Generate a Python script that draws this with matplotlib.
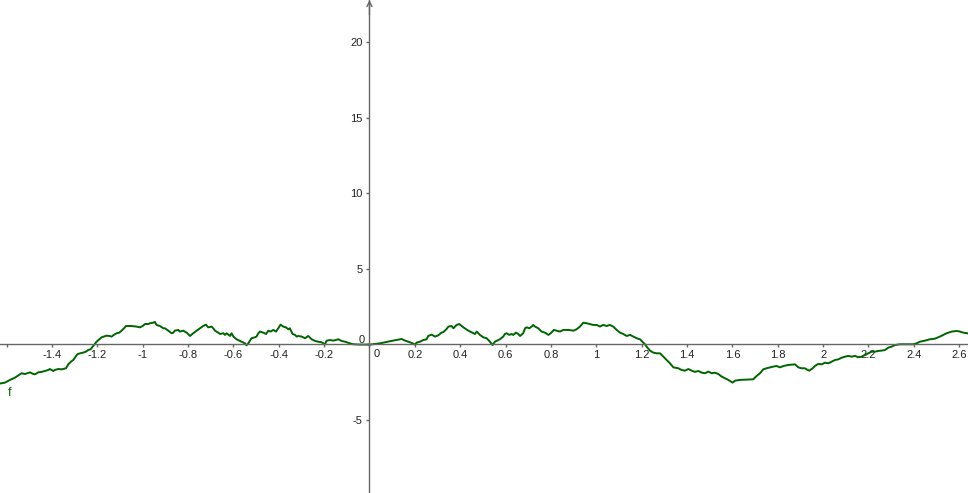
import matplotlib
matplotlib.use("Agg")
import matplotlib.pyplot as plt

# ---- data ----
x_vals = [-1.629, -1.607, -1.585, -1.563, -1.534, -1.519, -1.497, -1.482, -1.475, -1.460, -1.446,
          -1.431, -1.416, -1.409, -1.394, -1.387, -1.372, -1.357, -1.338, -1.328, -1.316, -1.306,
          -1.288, -1.276, -1.262, -1.250, -1.240, -1.229, -1.218, -1.203, -1.191, -1.181, -1.171,
          -1.159, -1.147, -1.137, -1.127, -1.115, -1.103, -1.093, -1.082, -1.074, -1.049, -1.027,
          -1.012, -1.000, -0.990, -0.975, -0.968, -0.953, -0.946, -0.939, -0.924, -0.909,
          -0.902, -0.887, -0.872, -0.865, -0.858, -0.843, -0.836, -0.821, -0.806, -0.791, -0.777,
          -0.762, -0.747, -0.733, -0.721, -0.711, -0.696, -0.689, -0.681, -0.667, -0.659, -0.644,
          -0.637, -0.630, -0.615, -0.608, -0.600, -0.586, -0.574, -0.564, -0.549, -0.542, -0.534,
          -0.527, -0.520, -0.505, -0.498, -0.490, -0.483, -0.468, -0.456, -0.446, -0.436, -0.424,
          -0.412, -0.402, -0.392, -0.380, -0.368, -0.358, -0.351, -0.339, -0.328, -0.321, -0.314,
          -0.299, -0.284, -0.270, -0.255, -0.240, -0.226, -0.211, -0.196,
          -0.189, -0.174, -0.159, -0.137, -0.123, -0.108, -0.086, -0.071, -0.042, 0.002, 0.046,
          0.090, 0.142, 0.157, 0.179, 0.201, 0.208, 0.223, 0.237, 0.252, 0.259, 0.274, 0.289,
          0.303, 0.318, 0.326, 0.340, 0.348, 0.362, 0.370, 0.377, 0.384, 0.396, 0.414, 0.436,
          0.465, 0.473, 0.487, 0.502,
          0.517, 0.531, 0.543, 0.553, 0.568, 0.575, 0.590, 0.597, 0.605, 0.616, 0.627, 0.634,
          0.646, 0.656, 0.664, 0.678, 0.686, 0.693, 0.705, 0.715, 0.722, 0.730, 0.744, 0.759,
          0.774, 0.789, 0.799, 0.813, 0.825, 0.840, 0.855, 0.877, 0.899, 0.913, 0.928, 0.943,
          0.958, 0.972, 0.987, 1.002, 1.016, 1.031, 1.046, 1.060, 1.075, 1.090, 1.105, 1.119,
          1.134, 1.149, 1.163, 1.178, 1.193, 1.207, 1.215,
          1.222, 1.237, 1.251, 1.266, 1.281, 1.296, 1.310, 1.325, 1.340, 1.362, 1.376, 1.391,
          1.406, 1.421, 1.435, 1.450, 1.465, 1.479, 1.494, 1.509, 1.523, 1.538, 1.553, 1.568,
          1.582, 1.601, 1.612, 1.634, 1.692, 1.707, 1.722, 1.736, 1.751, 1.766, 1.780, 1.795,
          1.810, 1.825, 1.847, 1.876, 1.891, 1.905, 1.920,
          1.927, 1.939, 1.954, 1.964, 1.979, 1.994, 2.008, 2.023, 2.038, 2.053, 2.067, 2.082,
          2.097, 2.111, 2.126, 2.141, 2.155, 2.170, 2.185, 2.199, 2.214, 2.229, 2.244, 2.258,
          2.273, 2.288, 2.302, 2.317, 2.339, 2.368, 2.398, 2.412, 2.427, 2.449, 2.471, 2.493,
          2.515, 2.530, 2.545, 2.567, 2.589, 2.604, 2.618, 2.633, 2.639]

f_vals = [-2.60, -2.54, -2.36, -2.21, -1.92, -1.97, -1.86, -1.97, -1.99, -1.86, -1.83,
          -1.77, -1.70, -1.64, -1.77, -1.70, -1.64, -1.66, -1.59, -1.33, -1.15, -1.04,
          -0.66, -0.60, -0.55, -0.49, -0.38, -0.33, -0.11, 0.17, 0.33, 0.46, 0.51,
          0.57, 0.55, 0.51, 0.62, 0.73, 0.77, 0.90, 1.06, 1.21, 1.21, 1.17,
          1.12, 1.21, 1.34, 1.34, 1.39, 1.43, 1.48, 1.28, 1.21, 1.06,
          1.06, 0.90, 0.73, 0.77, 0.90, 0.95, 0.84, 0.90, 0.77, 0.55, 0.73,
          0.90, 1.06, 1.21, 1.30, 1.12, 1.17, 1.06, 0.90, 0.77, 0.68, 0.73,
          0.62, 0.73, 0.55, 0.73, 0.51, 0.33, 0.24, 0.17, 0.06, -0.07, 0.06,
          0.24, 0.40, 0.46, 0.51, 0.73, 0.84, 0.77, 0.68, 0.90, 0.84, 0.95,
          0.84, 1.06, 1.30, 1.17, 1.12, 0.99, 1.06, 0.68, 0.62, 0.51, 0.55,
          0.51, 0.40, 0.55, 0.33, 0.22, 0.17, 0.13, 0.00,
          0.24, 0.28, 0.24, 0.33, 0.22, 0.17, 0.06, 0.00, -0.02, -0.02, 0.06,
          0.20, 0.35, 0.24, 0.13, -0.02, 0.11, 0.17, 0.28, 0.33, 0.55, 0.64, 0.51,
          0.59, 0.77, 0.81, 1.01, 1.17, 1.21, 1.06, 1.17, 1.28, 1.34, 1.12, 0.90,
          0.68, 0.84, 0.62, 0.46,
          0.40, 0.17, -0.05, 0.17, 0.28, 0.33, 0.51, 0.68, 0.73, 0.62, 0.68, 0.62,
          0.77, 0.68, 0.55, 0.73, 1.06, 1.12, 1.06, 1.17, 1.28, 1.17, 1.06, 0.84,
          0.77, 0.62, 0.73, 0.95, 0.90, 0.84, 0.95, 0.95, 0.90, 0.99, 1.17, 1.43,
          1.39, 1.34, 1.28, 1.28, 1.17, 1.28, 1.21, 1.28, 1.17, 0.95, 0.77, 0.68,
          0.55, 0.62, 0.51, 0.40, 0.33, 0.11, 0.00,
          -0.16, -0.42, -0.55, -0.60, -0.60, -0.82, -1.04, -1.26, -1.53, -1.59, -1.70, -1.75,
          -1.64, -1.75, -1.83, -1.77, -1.88, -1.92, -1.81, -1.92, -1.88, -1.97, -2.14, -2.25,
          -2.36, -2.54, -2.41, -2.36, -2.32, -2.10, -1.92, -1.66, -1.59, -1.53, -1.48, -1.44,
          -1.53, -1.44, -1.37, -1.33, -1.53, -1.59, -1.59,
          -1.66, -1.75, -1.59, -1.44, -1.30, -1.33, -1.22, -1.26, -1.15, -1.04, -1.00, -0.89,
          -0.82, -0.77, -0.82, -0.77, -0.86, -0.82, -0.71, -0.60, -0.49, -0.49, -0.44, -0.42,
          -0.38, -0.22, -0.16, -0.05, 0.00, 0.00, 0.00, 0.06, 0.17, 0.24, 0.33, 0.37,
          0.51, 0.62, 0.73, 0.84, 0.88, 0.84, 0.77, 0.73, 0.72]

x_ticks = [-1.6, -1.4, -1.2, -1.0, -0.8, -0.6, -0.4, -0.2, 0.0, 0.2, 0.4, 0.6, 0.8,
           1.0, 1.2, 1.4, 1.6, 1.8, 2.0, 2.2, 2.4, 2.6]
x_tick_labels = ["", "-1.4", "-1.2", "-1", "-0.8", "-0.6", "-0.4", "-0.2", "", "0.2", "0.4",
                 "0.6", "0.8", "1", "1.2", "1.4", "1.6", "1.8", "2", "2.2", "2.4", "2.6"]
y_ticks = [-5, 0, 5, 10, 15, 20]
y_tick_labels = ["-5", "", "5", "10", "15", "20"]
func_name = "f"

# ---- drawing ----
plt.rcParams['font.family'] = ['Liberation Sans', 'DejaVu Sans']
fig = plt.figure(figsize=(9.68, 4.93), dpi=100)
ax = fig.add_axes([0, 0, 1, 1])
ax.set_xlim(-1.629, 2.639)
ax.set_ylim(-9.85, 22.80)

axis_color = "#666666"
label_color = "#222222"
curve_color = "#006400"

for side in ("top", "right"):
    ax.spines[side].set_visible(False)
ax.spines["left"].set_position(("data", 0))
ax.spines["bottom"].set_position(("data", 0))
for side in ("left", "bottom"):
    ax.spines[side].set_color(axis_color)
    ax.spines[side].set_linewidth(1.0)

ax.set_xticks(x_ticks)
ax.set_xticklabels(x_tick_labels)
ax.set_yticks(y_ticks)
ax.set_yticklabels(y_tick_labels)
ax.tick_params(axis="x", direction="out", length=2.5, width=1, color=axis_color,
               labelsize=8, labelcolor=label_color, pad=1.5)
ax.tick_params(axis="y", direction="out", length=2.5, width=1, color=axis_color,
               labelsize=8, labelcolor=label_color, pad=2.5)

# origin labels
ax.annotate("0", xy=(0, 0), xytext=(-8, 4), textcoords="offset pixels",
            ha="center", va="center", fontsize=8, color=label_color)
ax.annotate("0", xy=(0, 0), xytext=(7, -10), textcoords="offset pixels",
            ha="center", va="center", fontsize=8, color=label_color)

# arrow at top of y axis
ax.annotate("", xy=(0, 1.0), xycoords=("data", "axes fraction"),
            xytext=(0, 0.97), textcoords=("data", "axes fraction"),
            arrowprops=dict(arrowstyle="->", color=axis_color, lw=1.0,
                            shrinkA=0, shrinkB=0, mutation_scale=9))

ax.plot(x_vals, f_vals, color=curve_color, lw=1.4, solid_joinstyle="round", clip_on=True)

ax.annotate(func_name, xy=(x_vals[0], f_vals[0]), xytext=(10, -9), textcoords="offset pixels",
            ha="center", va="center", fontsize=9, color=curve_color)

fig.savefig("out.png", dpi=100)
